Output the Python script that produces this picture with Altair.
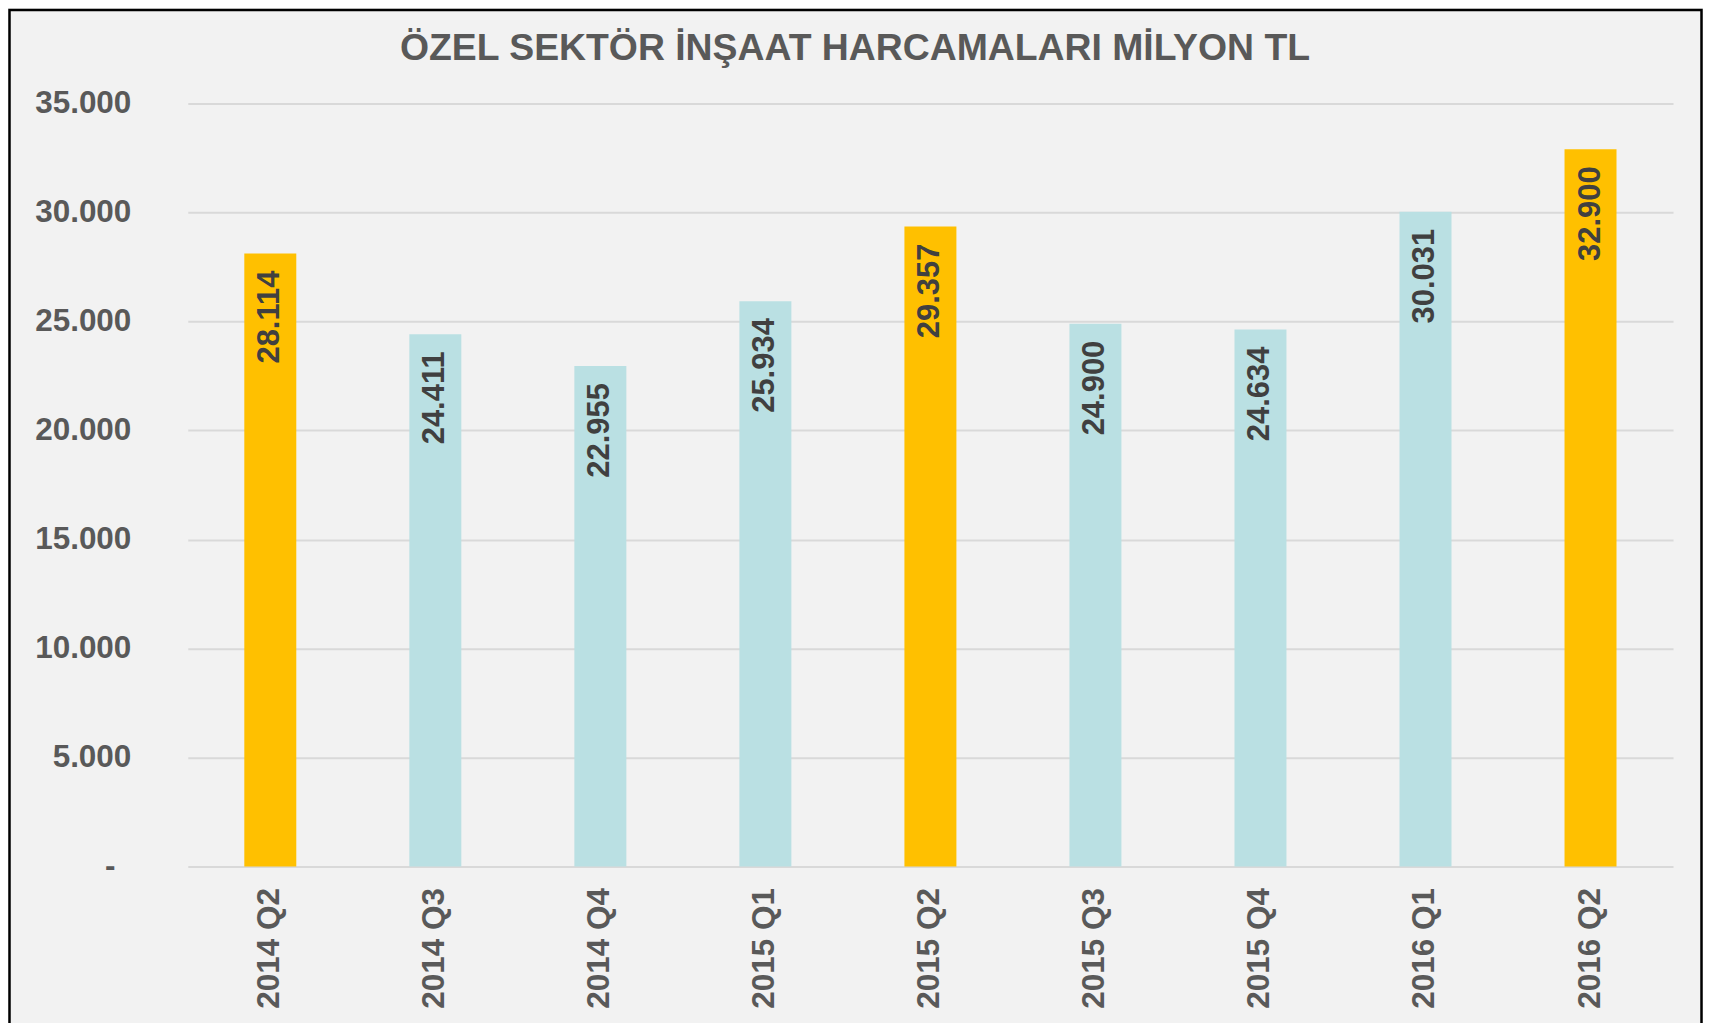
import altair as alt
import pandas as pd

donemler = ["2014 Q2", "2014 Q3", "2014 Q4", "2015 Q1", "2015 Q2",
            "2015 Q3", "2015 Q4", "2016 Q1", "2016 Q2"]
harcama = [28114, 24411, 22955, 25934, 29357, 24900, 24634, 30031, 32900]
y_ticks = [0, 5000, 10000, 15000, 20000, 25000, 30000, 35000]
baslik = "ÖZEL SEKTÖR İNŞAAT HARCAMALARI MİLYON TL"

df = pd.DataFrame({"donem": donemler, "deger": harcama})

GOLD = "#FFC000"
BLUE = "#BAE0E3"
FONT = "Liberation Sans"
GREY = "#595959"

W, H = 1487, 764
PAD = {"left": 180, "top": 95, "right": 30, "bottom": 160}

x_enc = alt.X(
    "donem:N",
    sort=donemler,
    title=None,
    scale=alt.Scale(paddingInner=0.685, paddingOuter=0.3425),
    axis=alt.Axis(
        labelAngle=-90,
        labelFont=FONT,
        labelFontSize=31.5,
        labelFontWeight="bold",
        labelColor=GREY,
        labelPadding=21,
        ticks=False,
        domain=False,
        grid=False,
    ),
)
y_enc = alt.Y(
    "deger:Q",
    title=None,
    scale=alt.Scale(domain=[0, 35000], nice=False),
    axis=alt.Axis(
        values=y_ticks,
        labelExpr="datum.value == 0 ? '-' : replace(format(datum.value, ','), ',', '.')",
        labelFont=FONT,
        labelFontSize=31.5,
        labelFontWeight="bold",
        labelColor=GREY,
        labelPadding={"condition": {"test": "datum.value == 0", "value": 73}, "value": 57},
        ticks=False,
        domain=False,
        gridColor="#D9D9D9",
        gridWidth=2,
    ),
)

bars = alt.Chart(df).mark_bar().encode(
    x=x_enc,
    y=y_enc,
    color=alt.condition("indexof(datum.donem, 'Q2') >= 0", alt.value(GOLD), alt.value(BLUE)),
)

labels = alt.Chart(df).mark_text(
    angle=270,
    align="right",
    baseline="middle",
    yOffset=17,
    font=FONT,
    fontSize=31,
    fontWeight="bold",
    color="#404040",
).encode(
    x=alt.X("donem:N", sort=donemler),
    y=alt.Y("deger:Q"),
    text=alt.Text("etiket:N"),
).transform_calculate(
    etiket="replace(format(datum.deger, ','), ',', '.')"
)

frame = alt.Chart(pd.DataFrame({"k": [0]})).mark_rect(
    fillOpacity=0, stroke="black", strokeWidth=2.5
).encode(
    x=alt.value(-PAD["left"] + 1.5),
    x2=alt.value(W + PAD["right"] - 1.5),
    y=alt.value(-PAD["top"] + 1.5),
    y2=alt.value(H + PAD["bottom"] + 20),
)

title = alt.Chart(pd.DataFrame({"t": [baslik]})).mark_text(
    align="center",
    baseline="alphabetic",
    font=FONT,
    fontSize=37.4,
    fontWeight="bold",
    color=GREY,
).encode(
    x=alt.value(668),
    y=alt.value(-44),
    text="t:N",
)

chart = alt.layer(frame, bars, labels, title).properties(
    width=W,
    height=H,
    padding=PAD,
    autosize=alt.AutoSizeParams(type="none"),
    background="#F2F2F2",
).configure_view(stroke=None)

chart.save("out.html", embed_options={"renderer": "svg", "actions": False})
